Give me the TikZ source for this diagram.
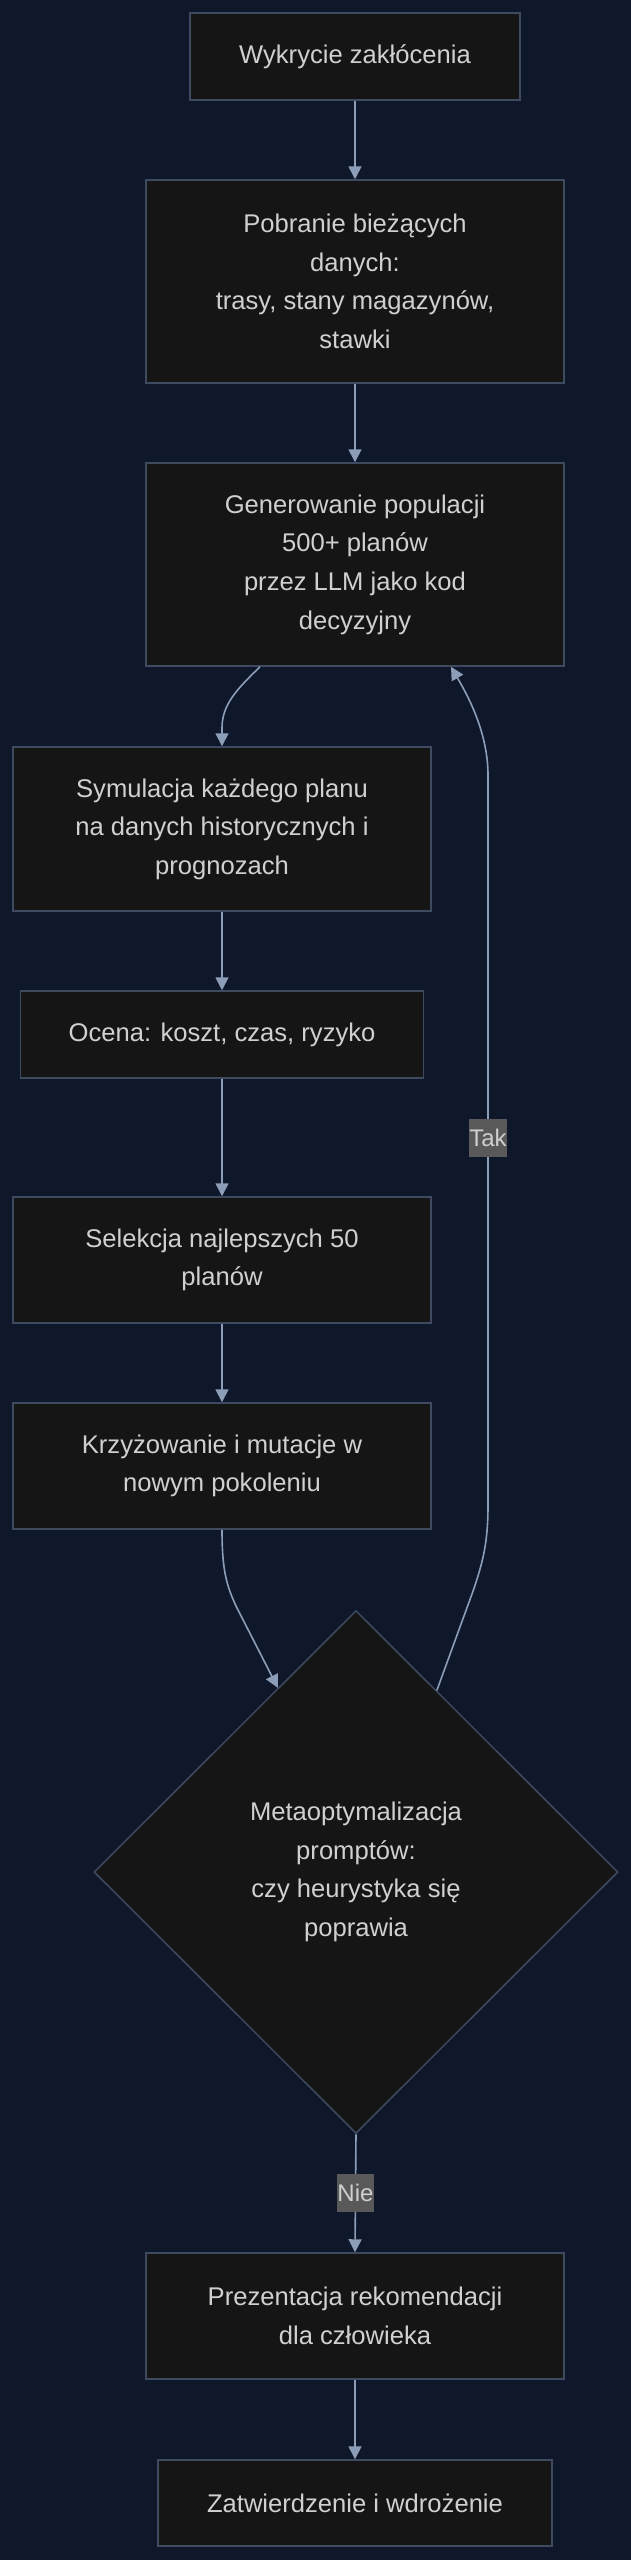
\documentclass[tikz,border=0pt]{standalone}
\usepackage{fontspec}
\setmainfont{Liberation Sans}
\usetikzlibrary{shapes.geometric,arrows.meta,calc}
\definecolor{bgc}{HTML}{0F172A}
\definecolor{boxfill}{HTML}{151515}
\definecolor{boxline}{HTML}{3D4A60}
\definecolor{edgec}{HTML}{8C9DB8}
\definecolor{txtc}{HTML}{D0D0D0}
\definecolor{lblfill}{HTML}{595959}
\begin{document}
\begin{tikzpicture}[x=1pt,y=-1pt,
  box/.style={draw=boxline, fill=boxfill, line width=1.5pt, text=txtc, align=center,
    inner sep=0pt, font=\fontsize{25.6}{38.6}\selectfont},
  dec/.style={box, shape=diamond, aspect=1},
  conn/.style={draw=edgec, line width=1.6pt, -{Triangle[length=13pt,width=13pt]}},
  lbl/.style={fill=lblfill, text=txtc, inner xsep=0.5pt, inner ysep=0pt,
    minimum height=38pt, font=\fontsize{24}{28}\selectfont}
]
\path[fill=bgc, use as bounding box] (0,0) rectangle (631,2560);

\node[box, minimum width=330pt, minimum height=87pt] (b1) at (355,56.5) {Wykrycie zakłócenia};
\node[box, minimum width=418pt, minimum height=203pt] (b2) at (355,281.5)
  {Pobranie bieżących\\danych:\\trasy, stany magazynów,\\stawki};
\node[box, minimum width=418pt, minimum height=203pt] (b3) at (355,564.5)
  {Generowanie populacji\\500+ planów\\przez LLM jako kod\\decyzyjny};
\node[box, minimum width=418pt, minimum height=164pt] (b4) at (222,829)
  {Symulacja każdego planu\\na danych historycznych i\\prognozach};
\node[box, minimum width=403pt, minimum height=87pt] (b5) at (222,1034.5)
  {Ocena: koszt, czas, ryzyko};
\node[box, minimum width=418pt, minimum height=126pt] (b6) at (222,1260)
  {Selekcja najlepszych 50\\planów};
\node[box, minimum width=418pt, minimum height=126pt] (b7) at (222,1466)
  {Krzyżowanie i mutacje w\\nowym pokoleniu};
\node[dec, minimum width=524pt, minimum height=523pt] (d) at (356,1872)
  {Metaoptymalizacja\\promptów:\\czy heurystyka się\\poprawia};
\node[box, minimum width=418pt, minimum height=126pt] (b8) at (355,2316)
  {Prezentacja rekomendacji\\dla człowieka};
\node[box, minimum width=394pt, minimum height=86pt] (b9) at (355,2503)
  {Zatwierdzenie i wdrożenie};

\draw[conn] (b1.south) -- (b2.north);
\draw[conn] (b2.south) -- (b3.north);
\draw[conn] ($(b3.south)+(-95,0)$) .. controls (236,690) and (222,705) .. (222,728) -- (b4.north);
\draw[conn] (b4.south) -- (b5.north);
\draw[conn] (b5.south) -- (b6.north);
\draw[conn] (b6.south) -- (b7.north);
\draw[conn] (b7.south) .. controls (222,1572) and (227,1586) .. (236,1606) -- (d.113.3);
\draw[conn] (d.66.7) -- (472,1594) .. controls (484,1560) and (488,1540) .. (488,1505)
  -- (488,775) .. controls (488,730) and (465,691) .. ($(b3.south)+(96,0)$);
\node[lbl] (ltak) at (488,1138) {Tak};
\draw[conn] (d.south) -- (b8.north) node[lbl, pos=0.5] (lnie) {Nie};
\draw[conn] (b8.south) -- (b9.north);
\end{tikzpicture}
\end{document}
